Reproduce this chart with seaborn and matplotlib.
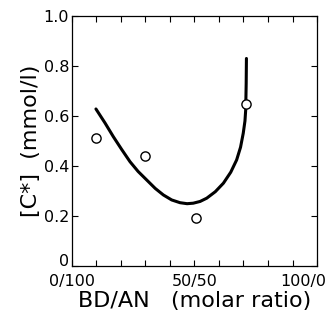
import matplotlib
matplotlib.use("Agg")
import matplotlib.pyplot as plt
import matplotlib.transforms as mtransforms
import seaborn as sns
import pandas as pd
from matplotlib.ticker import MultipleLocator, FixedLocator

# measured points
pt_x = [10, 30, 50.5, 71]
pt_y = [0.51, 0.44, 0.19, 0.647]

# fitted curve
curve_x = [9.8, 13.5, 16.9, 20.3, 23.7, 27.0, 30.5, 34.0, 37.3, 40.7, 44.1, 47.0, 49.5, 52.3,
           55.0, 58.5, 61.8, 64.8, 67.2, 68.8, 69.9, 70.6, 70.9, 71.1, 71.2]
curve_y = [0.628, 0.572, 0.517, 0.466, 0.417, 0.378, 0.344, 0.31, 0.284, 0.264, 0.253, 0.249, 0.251, 0.258,
           0.271, 0.297, 0.331, 0.375, 0.424, 0.475, 0.531, 0.58, 0.624, 0.73, 0.83]

x_tick_pos = [0, 50, 100]
x_tick_labels = ["0/100", "50/50", "100/0"]
y_tick_pos = [0, 0.2, 0.4, 0.6, 0.8, 1.0]
y_tick_labels = ["0", "0.2", "0.4", "0.6", "0.8", "1.0"]

sns.set_style("ticks")
plt.rcParams['font.family'] = ['DejaVu Sans']
plt.rcParams['text.color'] = 'black'
plt.rcParams['axes.labelcolor'] = 'black'

fig = plt.figure(figsize=(3.33, 3.20), dpi=100)
ax = fig.add_axes([0.216, 0.169, 0.736, 0.781])

curve = pd.DataFrame({"x": curve_x, "y": curve_y})
pts = pd.DataFrame({"x": pt_x, "y": pt_y})

sns.lineplot(data=curve, x="x", y="y", sort=False, color="black", linewidth=2.2, ax=ax)
sns.scatterplot(data=pts, x="x", y="y", s=44, facecolor="white", edgecolor="black",
                linewidth=1.0, zorder=5, ax=ax)

ax.set_xlim(0, 100)
ax.set_ylim(0, 1.0)
ax.xaxis.set_major_locator(FixedLocator(x_tick_pos))
ax.set_xticklabels(x_tick_labels)
ax.xaxis.set_minor_locator(MultipleLocator(10))
ax.yaxis.set_major_locator(FixedLocator(y_tick_pos))
ax.set_yticklabels(y_tick_labels)

ax.tick_params(which="both", direction="in", length=4, width=0.8, top=True, right=True,
               bottom=True, left=True, color="black")
ax.tick_params(which="major", labelsize=11.5, labelcolor="black")
ax.tick_params(axis="x", which="major", pad=6)
ax.tick_params(axis="y", which="major", pad=2)
for s in ax.spines.values():
    s.set_linewidth(0.9)
    s.set_color("black")

labs = ax.get_xticklabels()
offset = mtransforms.ScaledTranslation(-10 / 72, 0, fig.dpi_scale_trans)
labs[-1].set_transform(labs[-1].get_transform() + offset)
ylabs = ax.get_yticklabels()
yoff = mtransforms.ScaledTranslation(0, 4 / 72, fig.dpi_scale_trans)
ylabs[0].set_transform(ylabs[0].get_transform() + yoff)

ax.set_xlabel("BD/AN   (molar ratio)", fontsize=16, labelpad=1, color="black")
ax.set_ylabel("[C*]  (mmol/l)", fontsize=16, labelpad=2, color="black")

fig.savefig("out.png", dpi=100)
